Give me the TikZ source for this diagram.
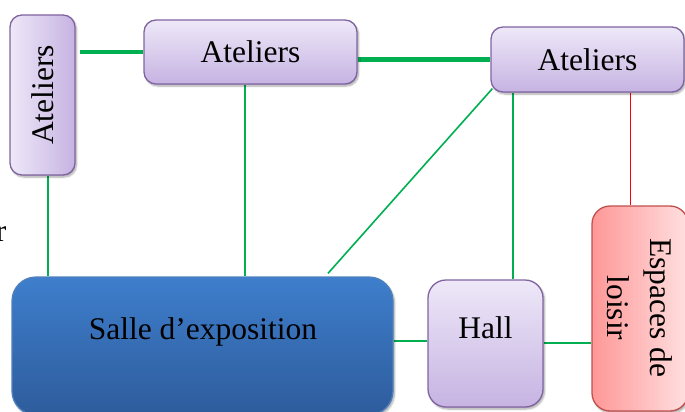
\documentclass[tikz,border=0pt]{standalone}
\usepackage{fontspec}
\setmainfont{Liberation Serif}
\usetikzlibrary{shadows.blur,backgrounds}
\definecolor{lavtop}{HTML}{EEE8F8}
\definecolor{lavbot}{HTML}{C6B3E2}
\definecolor{lavline}{HTML}{8064A2}
\definecolor{bluetop}{HTML}{3E7ECC}
\definecolor{bluebot}{HTML}{2E5C9C}
\definecolor{blueline}{HTML}{4F81BD}
\definecolor{pinkdark}{HTML}{FF9797}
\definecolor{pinklight}{HTML}{FFE0E0}
\definecolor{pinkline}{HTML}{C0504D}
\definecolor{linkgreen}{HTML}{00B050}
\definecolor{linkred}{HTML}{FF0000}
\begin{document}
\begin{tikzpicture}[x=1pt,y=-1pt,
  box/.style={line width=1.3pt, inner sep=0pt,
    blur shadow={shadow xshift=1.5pt, shadow yshift=-2pt, shadow blur steps=6, shadow opacity=35}},
  lavbox/.style={box, draw=lavline, top color=lavtop, bottom color=lavbot, rounded corners=12pt},
  lbl/.style={font=\fontsize{31.5}{43}\selectfont, text=black, inner sep=0pt, align=center},
  thicklink/.style={draw=linkgreen, line width=4.5pt},
  thinlink/.style={draw=linkgreen, line width=1.6pt},
  redlink/.style={draw=linkred, line width=1.6pt}]
\useasboundingbox (0,0) rectangle (685,412);

% partial label at the left edge
\node[lbl, anchor=base east] (rr) at (6.5,241) {r};

% boxes
\node[box, draw=lavline, left color=lavtop, right color=lavbot, rounded corners=12pt,
      minimum width=65pt, minimum height=160pt] (latl) at (42.5,95) {};
\node[lbl, rotate=90] (latltext) at (43,95) {Ateliers};

\node[lavbox, minimum width=213pt, minimum height=64pt, lbl] (atm) at (250.5,52) {Ateliers};
\node[lavbox, minimum width=193pt, minimum height=65pt, lbl] (atr) at (587.5,59.5) {Ateliers};

\node[box, draw=blueline, top color=bluetop, bottom color=bluebot, rounded corners=24pt,
      minimum width=381pt, minimum height=138pt] (salle) at (202.5,346) {};
\node[lbl] (salletext) at (203,332) {Salle d’exposition};

\node[lavbox, rounded corners=18pt, minimum width=115pt, minimum height=127pt] (hall) at (485.5,343.5) {};
\node[lbl] (halltext) at (485.5,328) {Hall};

\node[box, draw=pinkline, left color=pinkdark, right color=pinklight, rounded corners=18pt,
      minimum width=96pt, minimum height=205pt] (esp) at (640,308.5) {};
\node[lbl, rotate=-90] (esptext) at (640,308) {Espaces de\\loisir};

% connectors, kept beneath the boxes
\begin{pgfonlayer}{background}
\draw[thicklink] ([xshift=4pt]latl.east |- atm.west) -- (atm.west);
\draw[thicklink] (atm.east |- atr.west) -- (atr.west);
\draw[thinlink] ([xshift=5.5pt]latl.south) -- ([xshift=5.5pt]latl.south |- salle.north);
\draw[thinlink] ([xshift=-5.5pt]atm.south) -- ([xshift=-5.5pt]atm.south |- salle.north);
\draw[thinlink] ([xshift=2pt,yshift=4pt]atr.south west) -- ([xshift=125.5pt,yshift=3pt]salle.north);
\draw[thinlink] ([xshift=27.5pt]hall.north |- atr.south) -- ([xshift=27.5pt]hall.north);
\draw[redlink] ([xshift=43pt]atr.south) -- ([xshift=43pt]atr.south |- esp.north);
\draw[thinlink] ([yshift=2.5pt]salle.east |- hall.west) -- ([yshift=2.5pt]hall.west);
\draw[thinlink] ([yshift=0.5pt]hall.east) -- ([yshift=0.5pt]hall.east -| esp.west);
\end{pgfonlayer}
\end{tikzpicture}
\end{document}
